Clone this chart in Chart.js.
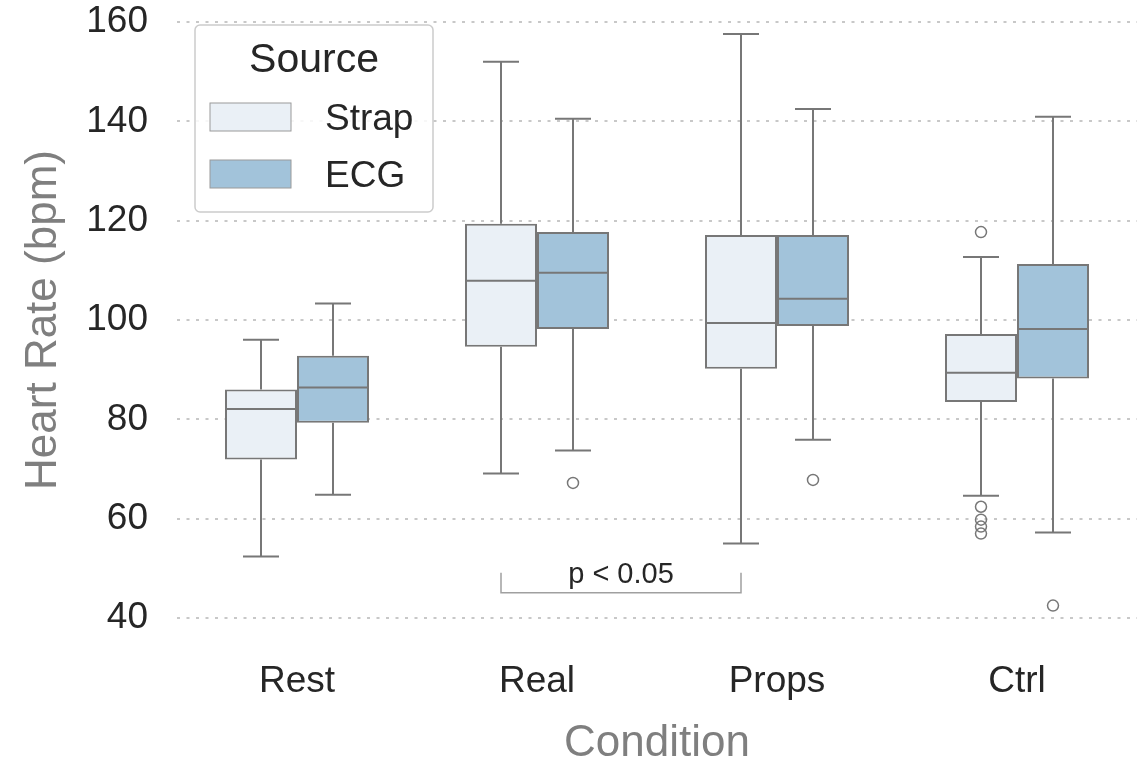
<!DOCTYPE html>
<html>
<head>
<meta charset="utf-8">
<script src="https://cdn.jsdelivr.net/npm/chart.js@4.4.1/dist/chart.umd.min.js"></script>
<style>
  html, body { margin: 0; padding: 0; background: #fff; }
  #wrap { width: 1139px; height: 766px; }
</style>
</head>
<body>
<div id="wrap"><canvas id="hrChart"></canvas></div>
<script>
const categories = ['Rest', 'Real', 'Props', 'Ctrl'];
const yTicks = [40, 60, 80, 100, 120, 140, 160];

// Strap
const strapMin = [52.4, 69.1, 55.0, 64.6];
const strapQ1 = [71.9, 94.6, 90.2, 83.5];
const strapMed = [82.1, 107.9, 99.4, 89.4];
const strapQ3 = [86.0, 119.4, 117.1, 97.2];
const strapMax = [96.0, 152.0, 157.6, 112.7];
const strapOut = [[], [], [], [117.7, 62.4, 59.8, 58.4, 57.0]];

// ECG
const ecgMin = [64.8, 73.7, 75.9, 57.2];
const ecgQ1 = [79.3, 98.2, 98.8, 88.2];
const ecgMed = [86.4, 109.5, 104.3, 98.2];
const ecgQ3 = [92.8, 117.7, 117.1, 111.3];
const ecgMax = [103.3, 140.5, 142.5, 140.9];
const ecgOut = [[], [67.2], [67.8], [42.5]];

// significance bracket: Real Strap vs Props Strap
const sigPair = [1, 2];
const sigLevel = 45.1;
const sigTick = 49.1;
const sigText = 'p < 0.05';

const FONT = "'Liberation Sans', Arial, sans-serif";
const EDGE = '#777777';

const boxStats = [
  { min: strapMin, q1: strapQ1, med: strapMed, q3: strapQ3, max: strapMax, out: strapOut },
  { min: ecgMin, q1: ecgQ1, med: ecgMed, q3: ecgQ3, max: ecgMax, out: ecgOut }
];

const boxDetails = {
  id: 'boxDetails',
  afterDatasetsDraw(chart) {
    const ctx = chart.ctx;
    const y = chart.scales.y;
    ctx.save();
    ctx.strokeStyle = EDGE;
    ctx.lineWidth = 2;
    boxStats.forEach((s, d) => {
      const meta = chart.getDatasetMeta(d);
      meta.data.forEach((bar, i) => {
        const x = bar.x, w = bar.width;
        const line = (x1, y1, x2, y2) => {
          ctx.beginPath(); ctx.moveTo(x1, y1); ctx.lineTo(x2, y2); ctx.stroke();
        };
        // whiskers + caps
        line(x, y.getPixelForValue(s.q3[i]), x, y.getPixelForValue(s.max[i]));
        line(x, y.getPixelForValue(s.q1[i]), x, y.getPixelForValue(s.min[i]));
        line(x - w / 4, y.getPixelForValue(s.max[i]), x + w / 4, y.getPixelForValue(s.max[i]));
        line(x - w / 4, y.getPixelForValue(s.min[i]), x + w / 4, y.getPixelForValue(s.min[i]));
        // median
        line(x - w / 2, y.getPixelForValue(s.med[i]), x + w / 2, y.getPixelForValue(s.med[i]));
        // outliers
        ctx.lineWidth = 1.5;
        s.out[i].forEach(v => {
          ctx.beginPath();
          ctx.arc(x, y.getPixelForValue(v), 5.5, 0, Math.PI * 2);
          ctx.stroke();
        });
        ctx.lineWidth = 2;
      });
    });

    // significance bracket
    const m = chart.getDatasetMeta(0);
    const xa = m.data[sigPair[0]].x, xb = m.data[sigPair[1]].x;
    const yl = y.getPixelForValue(sigLevel), yt = y.getPixelForValue(sigTick);
    ctx.strokeStyle = '#a0a0a0';
    ctx.lineWidth = 1.5;
    ctx.beginPath();
    ctx.moveTo(xa, yt); ctx.lineTo(xa, yl); ctx.lineTo(xb, yl); ctx.lineTo(xb, yt);
    ctx.stroke();
    ctx.fillStyle = '#262626';
    ctx.font = '29px ' + FONT;
    ctx.textAlign = 'center';
    ctx.textBaseline = 'alphabetic';
    ctx.fillText(sigText, (xa + xb) / 2, yl - 10);
    ctx.restore();
  }
};

const boxLegend = {
  id: 'boxLegend',
  afterDraw(chart) {
    const ctx = chart.ctx;
    const a = chart.chartArea;
    const left = a.left + 18, top = a.top + 3, w = 238, h = 187;
    ctx.save();
    ctx.beginPath();
    ctx.roundRect(left, top, w, h, 5);
    ctx.fillStyle = 'rgba(255,255,255,0.85)';
    ctx.fill();
    ctx.strokeStyle = '#cccccc';
    ctx.lineWidth = 1.5;
    ctx.stroke();

    ctx.fillStyle = '#262626';
    ctx.textAlign = 'center';
    ctx.textBaseline = 'alphabetic';
    ctx.font = '41px ' + FONT;
    ctx.fillText('Source', left + w / 2, top + 47);

    ctx.font = '37px ' + FONT;
    ctx.textAlign = 'left';
    chart.data.datasets.forEach((ds, k) => {
      const py = top + 78 + k * 57;
      ctx.fillStyle = ds.backgroundColor;
      ctx.fillRect(left + 15, py, 81, 28);
      ctx.strokeStyle = '#9a9a9a';
      ctx.lineWidth = 1;
      ctx.strokeRect(left + 15, py, 81, 28);
      ctx.fillStyle = '#262626';
      ctx.fillText(ds.label, left + 130, py + 27);
    });
    ctx.restore();
  }
};

new Chart(document.getElementById('hrChart'), {
  type: 'bar',
  data: {
    labels: categories,
    datasets: [
      {
        label: 'Strap',
        data: categories.map((c, i) => [strapQ1[i], strapQ3[i]]),
        backgroundColor: '#eaf0f6',
        borderColor: EDGE,
        borderWidth: 2,
        borderSkipped: false
      },
      {
        label: 'ECG',
        data: categories.map((c, i) => [ecgQ1[i], ecgQ3[i]]),
        backgroundColor: '#a2c3da',
        borderColor: EDGE,
        borderWidth: 2,
        borderSkipped: false
      }
    ]
  },
  options: {
    responsive: true,
    maintainAspectRatio: false,
    animation: false,
    categoryPercentage: 0.6,
    barPercentage: 1.0,
    layout: { padding: { top: 22, right: 2, bottom: 0, left: 0 } },
    plugins: {
      legend: { display: false },
      tooltip: { enabled: false }
    },
    scales: {
      x: {
        grid: { display: false, drawTicks: false },
        border: { display: false },
        ticks: { color: '#262626', font: { family: FONT, size: 37 }, padding: 42 },
        title: {
          display: true, text: 'Condition', color: '#7f7f7f',
          font: { family: FONT, size: 44, lineHeight: 1.0 },
          padding: { top: 0, bottom: 0 }
        },
        afterFit(scale) { scale.height = 148; }
      },
      y: {
        min: 40,
        max: 160,
        afterBuildTicks(scale) { scale.ticks = yTicks.map(v => ({ value: v })); },
        grid: { color: '#c8c8c8', lineWidth: 2, drawTicks: false },
        border: { display: false, dash: [3, 6.5] },
        ticks: { color: '#262626', font: { family: FONT, size: 37 }, padding: 29 },
        title: {
          display: true, text: 'Heart Rate (bpm)', color: '#7f7f7f',
          font: { family: FONT, size: 44, lineHeight: 1.0 },
          padding: { top: 22, bottom: 0 }
        },
        afterFit(scale) {
          scale.width = 177;
          scale.paddingTop = 0;
          scale.paddingBottom = 0;
        }
      }
    }
  },
  plugins: [boxDetails, boxLegend]
});
</script>
</body>
</html>
